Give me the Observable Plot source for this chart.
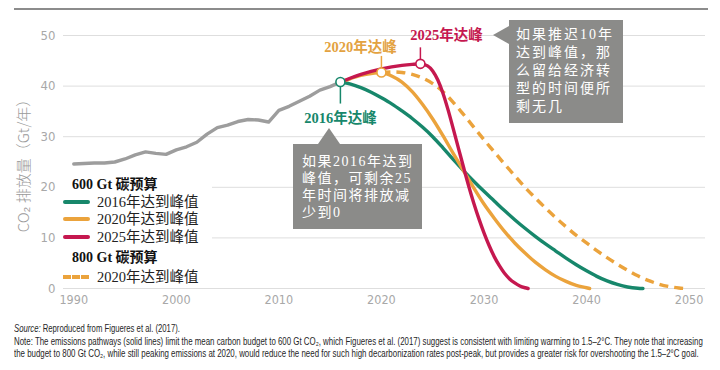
<!DOCTYPE html>
<html><head><meta charset="utf-8">
<script src="https://cdn.jsdelivr.net/npm/d3@7"></script>
<script src="https://cdn.jsdelivr.net/npm/@observablehq/plot@0.6"></script>
<style>
body{margin:0;background:#fff;}
#wrap{position:relative;width:720px;height:370px;overflow:hidden;background:#fff;}
#topline{position:absolute;left:14px;top:8px;width:694px;height:2px;background:#8c8c8c;}
#chart{position:absolute;left:0;top:0;}
.box{position:absolute;background:#8b8b89;color:#fff;font-family:"Liberation Serif","Noto Sans CJK SC",serif;font-size:14px;line-height:18px;letter-spacing:2px;box-sizing:border-box;}
.box p{margin:0;white-space:nowrap;}
.tri-left{position:absolute;width:0;height:0;border-top:9px solid transparent;border-bottom:9px solid transparent;border-right:16px solid #8b8b89;}
.tri-up{position:absolute;width:0;height:0;border-left:11px solid transparent;border-right:11px solid transparent;border-bottom:16px solid #8b8b89;}
#legend{position:absolute;left:60px;top:172px;width:152px;height:112px;background:#fff;font-family:"Liberation Serif","Noto Sans CJK SC",serif;color:#222;}
.lg-h{position:absolute;left:12px;font-weight:bold;font-size:14px;line-height:16px;color:#111;white-space:nowrap;}
.lg-r{position:absolute;left:37px;font-size:14.5px;line-height:16px;white-space:nowrap;}
.sw{position:absolute;left:3px;width:27px;height:0;border-top:4px solid;border-radius:2px;}
.fn{position:absolute;left:14px;white-space:nowrap;font-family:"Liberation Sans",Arial,sans-serif;font-size:10.5px;line-height:12px;color:#262626;transform-origin:0 0;}
</style></head><body>
<div id="wrap">
  <div id="chart"></div>
  <div id="topline"></div>
  <div id="legend"></div>
</div>
<script>
// ---------- data ----------
const histYears  = [1990,1991,1992,1993,1994,1995,1996,1997,1998,1999,2000,2001,2002,2003,2004,2005,2006,2007,2008,2009,2010,2011,2012,2013,2014,2015,2016];
const histValues = [24.6,24.7,24.8,24.8,25.0,25.6,26.4,27.0,26.7,26.5,27.4,28.0,28.9,30.5,31.8,32.3,33.0,33.4,33.3,32.9,35.2,36.0,37.0,38.0,39.2,39.9,40.8];

const peak2016Years  = [2016,2017,2018,2019,2020,2021,2022,2023,2024,2025,2026,2027,2028,2029,2030,2031,2032,2033,2034,2035,2036,2037,2038,2039,2040,2041,2042,2043,2044,2045,2045.5];
const peak2016Values = [40.8,40.4,39.7,38.8,37.7,36.5,35.1,33.6,31.9,30.0,27.8,25.5,23.3,21.2,19.2,17.3,15.4,13.6,11.9,10.3,8.8,7.4,6.0,4.7,3.5,2.4,1.5,0.8,0.3,0.05,0];

const peak2020Years  = [2016,2017,2018,2019,2020,2021,2022,2023,2024,2025,2026,2027,2028,2029,2030,2031,2032,2033,2034,2035,2036,2037,2038,2039,2040,2040.3];
const peak2020Values = [40.8,41.5,42.1,42.5,42.7,42.0,40.8,38.9,36.4,33.5,30.2,26.7,23.3,19.9,16.7,13.9,11.3,9.0,7.0,5.2,3.7,2.4,1.4,0.6,0.15,0];

const peak2025Years  = [2016,2017,2018,2019,2020,2021,2022,2023,2023.8,2024.5,2025,2025.5,2026,2026.5,2027,2027.5,2028,2028.5,2029,2029.5,2030,2030.5,2031,2031.5,2032,2032.5,2033,2033.5,2034,2034.3];
const peak2025Values = [40.8,41.6,42.3,42.9,43.4,43.8,44.1,44.3,44.4,44.0,43.0,41.2,38.6,35.3,31.6,27.8,24.0,20.3,16.9,13.8,11.0,8.5,6.3,4.5,3.0,1.9,1.1,0.5,0.15,0];

const budget800Years  = [2020,2021,2022,2023,2024,2025,2026,2027,2028,2029,2030,2031,2032,2033,2034,2035,2036,2037,2038,2039,2040,2041,2042,2043,2044,2045,2046,2047,2048,2049,2049.7];
const budget800Values = [42.7,42.8,42.7,42.3,41.6,40.5,38.9,36.8,34.4,31.9,29.4,27.0,24.6,22.3,20.0,17.9,15.9,14.0,12.2,10.5,9.0,7.5,6.1,4.8,3.6,2.5,1.6,0.9,0.4,0.1,0];

const peakLabels = ["2016年达峰","2020年达峰","2025年达峰"];
const peakYears  = [2016, 2020, 2023.8];
const peakValues = [40.8, 42.7, 44.4];

const xTicks = [1990,2000,2010,2020,2030,2040,2050];
const yTicks = [0,10,20,30,40,50];
const yTitle = "CO₂ 排放量（Gt/年）";

const legendHead1 = "600 Gt 碳预算";
const legendHead2 = "800 Gt 碳预算";
const legendItems = ["2016年达到峰值","2020年达到峰值","2025年达到峰值","2020年达到峰值"];

const note1a = "Source:";
const note1b = " Reproduced from Figueres et al. (2017).";
const note2 = "Note: The emissions pathways (solid lines) limit the mean carbon budget to 600 Gt CO₂, which Figueres et al. (2017) suggest is consistent with limiting warming to 1.5–2°C. They note that increasing";
const note3 = "the budget to 800 Gt CO₂, while still peaking emissions at 2020, would reduce the need for such high decarbonization rates post-peak, but provides a greater risk for overshooting the 1.5–2°C goal.";

const box1Lines = ["如果推迟10年","达到峰值，那","么留给经济转","型的时间便所","剩无几"];
const box2Lines = ["如果2016年达到","峰值，可剩余25","年时间将排放减","少到0"];

// ---------- build tables ----------
const toRows = (ys, vs) => ys.map((y, i) => ({year: y, value: vs[i]}));
const hist = toRows(histYears, histValues);
const s2016 = toRows(peak2016Years, peak2016Values);
const s2020 = toRows(peak2020Years, peak2020Values);
const s2025 = toRows(peak2025Years, peak2025Values);
const s800 = toRows(budget800Years, budget800Values);
const peaks = peakYears.map((y, i) => ({year: y, value: peakValues[i], label: peakLabels[i]}));

const GREEN = "#17876b", ORANGE = "#eba33c", RED = "#c5184f", GRAY = "#9d9d9d";
const LBL_ORANGE = "#e3a241";
const tickFont = '"Liberation Sans Narrow","DejaVu Sans Condensed","Liberation Sans",sans-serif';
const serif = '"Liberation Serif","Noto Sans CJK SC",serif';

const lineOpts = {x: "year", y: "value", strokeWidth: 3.4, curve: "monotone-x", strokeLinecap: "round", strokeLinejoin: "round"};

const plot = Plot.plot({
  width: 720, height: 312,
  marginTop: 35, marginBottom: 24, marginLeft: 63, marginRight: 15,
  x: {domain: [1989, 2051.6]},
  y: {domain: [0, 50]},
  style: {background: "transparent", fontFamily: tickFont},
  marks: [
    Plot.ruleY(yTicks, {stroke: "#dedede", strokeWidth: 1}),
    Plot.axisY({ticks: yTicks, tickSize: 0, tickPadding: 8, label: null, fill: "#a8a8a8", fontSize: 13, fontFamily: tickFont}),
    Plot.axisX({ticks: xTicks, tickSize: 0, tickPadding: 7, label: null, tickFormat: d => String(d), fill: "#a8a8a8", fontSize: 12.5, fontFamily: tickFont}),
    Plot.text([yTitle], {text: d => d, frameAnchor: "left", textAnchor: "middle", rotate: -90, dx: -39, fill: "#9a9a9a", fontSize: 15, fontFamily: '"Noto Sans CJK SC",sans-serif', fontWeight: 300}),
    Plot.line(hist, {...lineOpts, stroke: GRAY, curve: "linear"}),
    Plot.line(s800, {...lineOpts, stroke: ORANGE, strokeDasharray: "9,6", strokeLinecap: "butt"}),
    Plot.line(s2016, {...lineOpts, stroke: GREEN}),
    Plot.line(s2020, {...lineOpts, stroke: ORANGE}),
    Plot.line(s2025, {...lineOpts, stroke: RED}),
    Plot.ruleX([peaks[0]], {x: "year", y1: "value", y2: "value", insetTop: 4, insetBottom: -22, stroke: GREEN, strokeWidth: 1.5}),
    Plot.ruleX([peaks[1]], {x: "year", y1: "value", y2: "value", insetTop: -16, insetBottom: 4, stroke: ORANGE, strokeWidth: 1.5}),
    Plot.ruleX([peaks[2]], {x: "year", y1: "value", y2: "value", insetTop: -16, insetBottom: 4, stroke: RED, strokeWidth: 1.5}),
    Plot.dot([peaks[0]], {x: "year", y: "value", r: 4.5, fill: "#fff", stroke: GREEN, strokeWidth: 1.6}),
    Plot.dot([peaks[1]], {x: "year", y: "value", r: 4.5, fill: "#fff", stroke: ORANGE, strokeWidth: 1.6}),
    Plot.dot([peaks[2]], {x: "year", y: "value", r: 4.5, fill: "#fff", stroke: RED, strokeWidth: 1.6}),
    Plot.text([peaks[0]], {x: "year", y: "value", text: "label", dy: 36, fill: GREEN, fontWeight: "bold", fontSize: 14.5, fontFamily: serif}),
    Plot.text([peaks[1]], {x: "year", y: "value", text: "label", dy: -25, dx: -21, fill: LBL_ORANGE, fontWeight: "bold", fontSize: 14.5, fontFamily: serif}),
    Plot.text([peaks[2]], {x: "year", y: "value", text: "label", dy: -28, dx: 26, fill: RED, fontWeight: "bold", fontSize: 14.5, fontFamily: serif})
  ]
});
document.getElementById("chart").appendChild(plot);

// ---------- callout boxes ----------
const wrap = document.getElementById("wrap");
function addBox(lines, left, top, w, h, padL, padT) {
  const b = document.createElement("div");
  b.className = "box";
  Object.assign(b.style, {left: left + "px", top: top + "px", width: w + "px", height: h + "px", paddingLeft: padL + "px", paddingTop: padT + "px"});
  lines.forEach(t => { const p = document.createElement("p"); p.textContent = t; b.appendChild(p); });
  wrap.appendChild(b);
  return b;
}
const t1 = document.createElement("div"); t1.className = "tri-left";
Object.assign(t1.style, {left: "493px", top: "26px"}); wrap.appendChild(t1);
addBox(box1Lines, 509, 20, 114, 103, 7, 6);
const t2 = document.createElement("div"); t2.className = "tri-up";
Object.assign(t2.style, {left: "318px", top: "128px"}); wrap.appendChild(t2);
const b2 = addBox(box2Lines, 293, 144, 129, 85, 9, 9);
b2.style.lineHeight = "17px"; b2.style.letterSpacing = "1.5px";

// ---------- legend ----------
const lg = document.getElementById("legend");
function addEl(cls, text, top, extra) {
  const d = document.createElement("div"); d.className = cls; d.style.top = top + "px";
  if (text) d.textContent = text;
  if (extra) Object.assign(d.style, extra);
  lg.appendChild(d); return d;
}
addEl("lg-h", legendHead1, 5);
addEl("sw", null, 28, {borderTopColor: GREEN});
addEl("lg-r", legendItems[0], 22);
addEl("sw", null, 45, {borderTopColor: ORANGE});
addEl("lg-r", legendItems[1], 39);
addEl("sw", null, 63, {borderTopColor: RED});
addEl("lg-r", legendItems[2], 57);
addEl("lg-h", legendHead2, 78);
addEl("sw", null, 103, {borderTopColor: ORANGE, borderTopStyle: "dashed", borderRadius: "0", width: "26px"});
addEl("lg-r", legendItems[3], 97);

// ---------- footnote (condensed to fit the reference widths) ----------
function fnLine(parts, top, targetW) {
  const d = document.createElement("div"); d.className = "fn"; d.style.top = top + "px";
  parts.forEach(([txt, italic]) => {
    const s = document.createElement(italic ? "i" : "span"); s.textContent = txt; d.appendChild(s);
  });
  wrap.appendChild(d);
  const w = d.offsetWidth;
  d.style.transform = "scaleX(" + (targetW / w) + ")";
}
fnLine([[note1a, true], [note1b, false]], 322, 166);
fnLine([[note2, false]], 335, 689);
fnLine([[note3, false]], 347, 685);
</script>
</body></html>
